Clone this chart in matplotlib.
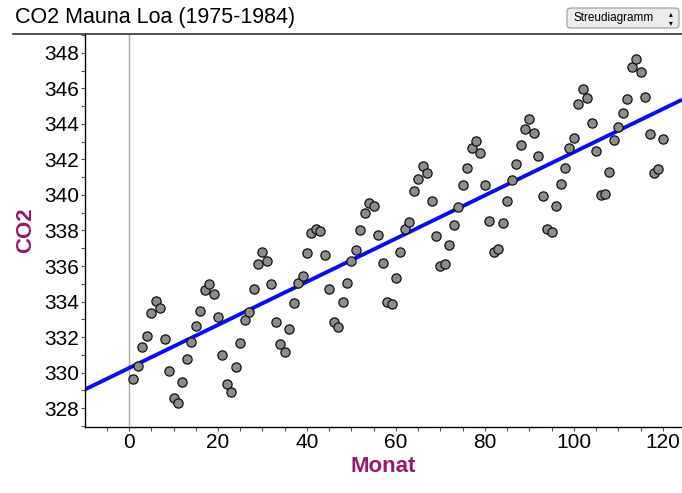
import numpy as np
import matplotlib
matplotlib.use("Agg")
import matplotlib.pyplot as plt
from matplotlib.lines import Line2D
from matplotlib.patches import FancyBboxPatch
from matplotlib.ticker import MultipleLocator

# monthly values (month 1 = Jan 1975)
month = np.arange(1, 121)
co2 = [
    329.62, 330.35, 331.44, 332.06, 333.34, 334.05, 333.65, 331.89, 330.08, 328.58, 328.30, 329.45,
    330.76, 331.72, 332.60, 333.48, 334.65, 334.97, 334.41, 333.14, 330.97, 329.34, 328.92, 330.29,
    331.68, 332.96, 333.43, 334.70, 336.10, 336.77, 336.30, 334.99, 332.83, 331.61, 331.17, 332.45,
    333.90, 335.03, 335.45, 336.72, 337.84, 338.10, 337.99, 336.62, 334.70, 332.83, 332.56, 333.95,
    335.03, 336.30, 336.90, 338.03, 339.00, 339.57, 339.40, 337.75, 336.15, 333.99, 333.88, 335.34,
    336.77, 338.08, 338.50, 340.23, 340.88, 341.63, 341.26, 339.68, 337.69, 336.00, 336.10, 337.16,
    338.31, 339.31, 340.56, 341.52, 342.63, 343.06, 342.35, 340.58, 338.52, 336.77, 336.94, 338.44,
    339.66, 340.83, 341.75, 342.80, 343.72, 344.26, 343.48, 342.20, 339.94, 338.08, 337.90, 339.40,
    340.60, 341.52, 342.66, 343.19, 345.11, 345.95, 345.48, 344.07, 342.50, 339.98, 340.07, 341.28,
    343.10, 343.85, 344.64, 345.39, 347.23, 347.65, 346.91, 345.54, 343.42, 341.22, 341.45, 343.14,
]

title = "CO2 Mauna Loa (1975-1984)"
x_label = "Monat"
y_label = "CO2"
menu_text = "Streudiagramm"

label_color = "#991a6e"


def main():
    plt.rcParams["font.family"] = ["Liberation Sans", "DejaVu Sans"]

    fig = plt.figure(figsize=(6.82, 4.93), dpi=100)
    ax = fig.add_axes([85 / 682, 1 - 427 / 493, 1 - 85 / 682, (427 - 34) / 493])

    xmin, xmax = -9.9, 124.3
    ax.set_xlim(xmin, xmax)
    ax.set_ylim(326.93, 349.07)

    # zero line
    ax.axvline(0, color="#a8a8a8", lw=1, zorder=1)

    # least squares line
    slope, icpt = np.polyfit(month, co2, 1)
    xs = np.array([xmin, xmax])
    ax.plot(xs, icpt + slope * xs, color="#0a0aff", lw=2.8, solid_capstyle="butt", zorder=2)

    ax.scatter(month, co2, s=44, c="#8c8c8c", edgecolors="#111111", linewidths=0.9, zorder=3)

    ax.xaxis.set_major_locator(MultipleLocator(20))
    ax.xaxis.set_minor_locator(MultipleLocator(5))
    ax.yaxis.set_major_locator(MultipleLocator(2))
    ax.yaxis.set_minor_locator(MultipleLocator(1))
    ax.tick_params(which="both", direction="out", length=3, width=0.8, color="#555555",
                   labelsize=15, pad=1)

    for s in ["top", "right"]:
        ax.spines[s].set_visible(False)
    ax.spines["left"].set_linewidth(1)
    ax.spines["bottom"].set_linewidth(1)

    ax.set_xlabel(x_label, fontsize=16, fontweight="bold", color=label_color, labelpad=3)
    ax.set_ylabel(y_label, fontsize=16, fontweight="bold", color=label_color, labelpad=6)

    # header
    fig.text(15 / 682, 1 - 18 / 493, title, fontsize=15.5, va="center", ha="left")
    fig.add_artist(Line2D([13 / 682, 1], [1 - 34 / 493] * 2, color="#333333", lw=1.2))

    # dropdown box
    box = FancyBboxPatch((567 / 682, 1 - 28 / 493), 112 / 682, 20 / 493,
                         boxstyle="round,pad=0,rounding_size=0.006",
                         transform=fig.transFigure, facecolor="#ececec",
                         edgecolor="#9a9a9a", lw=0.8)
    fig.add_artist(box)
    fig.text(573 / 682, 1 - 18 / 493, menu_text, fontsize=8.5, va="center", ha="left")
    fig.text(671 / 682, 1 - 18 / 493, "\u25b4\n\u25be", fontsize=5.5, va="center", ha="center",
             linespacing=0.9, family="DejaVu Sans")

    fig.savefig("out.png", dpi=100)


if __name__ == '__main__':
    main()
